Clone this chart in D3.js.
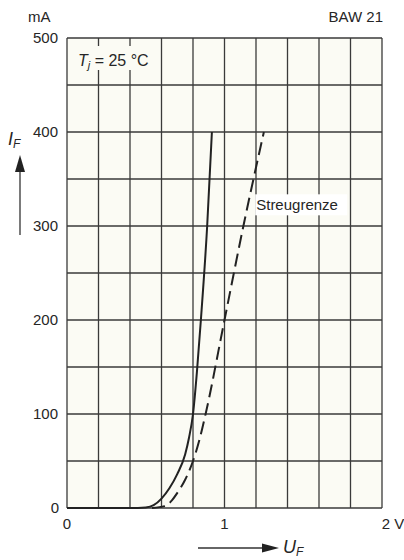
<!DOCTYPE html>
<html>
<head>
<meta charset="utf-8">
<script src="https://cdn.jsdelivr.net/npm/d3@7"></script>
<style>
  body { margin: 0; background: #fff; }
  svg text { font-family: "Liberation Sans", Arial, sans-serif; fill: #262626; }
</style>
</head>
<body>
<svg id="chart" width="404" height="560"></svg>
<script>
// forward voltage (V) / forward current (mA), typical curve
let solidU = [0, 0.45, 0.50, 0.55, 0.60, 0.65, 0.70, 0.75, 0.775, 0.80, 0.825, 0.85, 0.89, 0.92];
let solidI = [0, 0, 0.5, 3, 10, 21, 36, 57, 75, 100, 145, 200, 300, 400];
// spread limit ("Streugrenze"), dashed
let dashedU = [0.54, 0.62, 0.66, 0.70, 0.75, 0.80, 0.84, 0.88, 1.0, 1.12, 1.25];
let dashedI = [0, 2, 7, 16, 30, 50, 72, 100, 200, 300, 400];

let yTickLabels = [0, 100, 200, 300, 400, 500];
let xTickLabels = ['0', '1', '2 V'];

let svg = d3.select('#chart');
let margin = {top: 38, right: 22, bottom: 52, left: 67};
let width = 404 - margin.left - margin.right;
let height = 560 - margin.top - margin.bottom;

let xScale = d3.scaleLinear().domain([0, 2]).range([0, width]);
let yScale = d3.scaleLinear().domain([0, 500]).range([height, 0]);

let g = svg.append('g')
    .attr('transform', 'translate(' + margin.left + ',' + margin.top + ')');

// plot background
g.append('rect')
    .attr('width', width).attr('height', height)
    .attr('fill', '#fbfbf4');

// grid: 0.2 V and 50 mA steps
g.append('g')
    .selectAll('line')
    .data(d3.range(0, 2.0001, 0.2))
    .enter().append('line')
    .attr('x1', d => xScale(d)).attr('x2', d => xScale(d))
    .attr('y1', 0).attr('y2', height)
    .attr('stroke', '#3a3a3a').attr('stroke-width', 1.3);
g.append('g')
    .selectAll('line')
    .data(d3.range(0, 501, 50))
    .enter().append('line')
    .attr('y1', d => yScale(d)).attr('y2', d => yScale(d))
    .attr('x1', 0).attr('x2', width)
    .attr('stroke', '#3a3a3a').attr('stroke-width', 1.3);

// y tick labels
g.selectAll('.ylab')
    .data(yTickLabels)
    .enter().append('text')
    .attr('class', 'ylab')
    .attr('x', d => d === 0 ? -8 : -9)
    .attr('y', d => yScale(d) + 5)
    .attr('text-anchor', 'end')
    .attr('font-size', 15)
    .text(d => d);

// x tick labels
g.selectAll('.xlab')
    .data(xTickLabels)
    .enter().append('text')
    .attr('class', 'xlab')
    .attr('x', (d, i) => xScale(i) + (i === 2 ? 11 : 0))
    .attr('y', height + 21)
    .attr('text-anchor', 'middle')
    .attr('font-size', 15)
    .text(d => d);

// unit labels
svg.append('text').attr('x', 28).attr('y', 22).attr('font-size', 15).text('mA');
svg.append('text').attr('x', 383).attr('y', 22).attr('font-size', 15)
    .attr('text-anchor', 'end').text('BAW 21');

// T_j label with white box
g.append('rect').attr('x', 7).attr('y', 8).attr('width', 80).attr('height', 24).attr('fill', '#fbfbf4');
let tj = g.append('text').attr('x', 11).attr('y', 28).attr('font-size', 16);
tj.append('tspan').attr('font-style', 'italic').text('T');
tj.append('tspan').attr('font-style', 'italic').attr('font-size', 11).attr('dy', 3).text('j');
tj.append('tspan').attr('dy', -3).text(' = 25 °C');

// curves
let curveLine = d3.line()
    .x(d => xScale(d[0]))
    .y(d => yScale(d[1]))
    .curve(d3.curveMonotoneX);

g.append('path')
    .datum(d3.zip(dashedU, dashedI))
    .attr('d', curveLine)
    .attr('fill', 'none')
    .attr('stroke', '#222').attr('stroke-width', 2)
    .attr('stroke-dasharray', '13,6');

g.append('path')
    .datum(d3.zip(solidU, solidI))
    .attr('d', curveLine)
    .attr('fill', 'none')
    .attr('stroke', '#222').attr('stroke-width', 2);

// Streugrenze label
g.append('rect')
    .attr('x', xScale(1.195)).attr('y', yScale(322) - 11)
    .attr('width', 92).attr('height', 21)
    .attr('fill', '#fff');
g.append('text')
    .attr('x', xScale(1.195) + 1).attr('y', yScale(322) + 5)
    .attr('font-size', 15)
    .text('Streugrenze');

// I_F axis title with arrow
let ifl = svg.append('text').attr('x', 8).attr('y', 145).attr('font-size', 18);
ifl.append('tspan').attr('font-style', 'italic').text('I');
ifl.append('tspan').attr('font-style', 'italic').attr('font-size', 12).attr('dy', 3).text('F');
svg.append('line').attr('x1', 20).attr('x2', 20).attr('y1', 235).attr('y2', 170)
    .attr('stroke', '#333').attr('stroke-width', 1.3);
svg.append('path').attr('d', 'M15,172 L20,155 L25,172 Z').attr('fill', '#222');

// U_F axis title with arrow
svg.append('line').attr('x1', 198).attr('x2', 265).attr('y1', 548).attr('y2', 548)
    .attr('stroke', '#333').attr('stroke-width', 1.3);
svg.append('path').attr('d', 'M262,543.5 L279,548 L262,552.5 Z').attr('fill', '#222');
let ufl = svg.append('text').attr('x', 283).attr('y', 553).attr('font-size', 18);
ufl.append('tspan').attr('font-style', 'italic').text('U');
ufl.append('tspan').attr('font-style', 'italic').attr('font-size', 12).attr('dy', 3).text('F');
</script>
</body>
</html>
